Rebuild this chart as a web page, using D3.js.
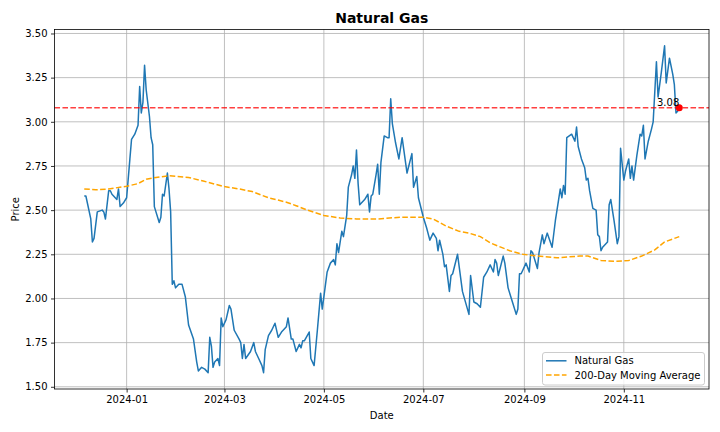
<!DOCTYPE html>
<html>
<head>
<meta charset="utf-8">
<script src="https://cdn.jsdelivr.net/npm/d3@7"></script>
<style>
  body { margin: 0; background: #fff; }
  svg { display: block; font-family: "DejaVu Sans", sans-serif; }
</style>
</head>
<body>
<div id="chart"></div>
<script>
// daily closes
const priceDates = [
  "2023-12-06","2023-12-07","2023-12-10","2023-12-11","2023-12-12","2023-12-14","2023-12-17","2023-12-18",
  "2023-12-19","2023-12-21","2023-12-22","2023-12-23","2023-12-26","2023-12-27","2023-12-28","2023-12-30",
  "2024-01-01","2024-01-03","2024-01-04","2024-01-06","2024-01-08","2024-01-09","2024-01-10","2024-01-11",
  "2024-01-12","2024-01-13","2024-01-15","2024-01-16","2024-01-17","2024-01-18","2024-01-21","2024-01-22",
  "2024-01-23","2024-01-24","2024-01-26","2024-01-27","2024-01-28","2024-01-29","2024-01-30","2024-01-31",
  "2024-02-02","2024-02-04","2024-02-06","2024-02-08","2024-02-11","2024-02-13","2024-02-14","2024-02-16",
  "2024-02-18","2024-02-20","2024-02-21","2024-02-22","2024-02-23","2024-02-24","2024-02-26","2024-02-27",
  "2024-02-28","2024-02-29","2024-03-02","2024-03-04","2024-03-05","2024-03-07","2024-03-10","2024-03-11",
  "2024-03-12","2024-03-13","2024-03-14","2024-03-17","2024-03-19","2024-03-20","2024-03-22","2024-03-24",
  "2024-03-25","2024-03-26","2024-03-28","2024-03-30","2024-04-01","2024-04-03","2024-04-05","2024-04-08",
  "2024-04-09","2024-04-11","2024-04-12","2024-04-14","2024-04-16","2024-04-17","2024-04-18","2024-04-19",
  "2024-04-22","2024-04-23","2024-04-25","2024-04-27","2024-04-29","2024-04-30","2024-05-03","2024-05-05",
  "2024-05-07","2024-05-08","2024-05-09","2024-05-10","2024-05-11","2024-05-12","2024-05-13","2024-05-15",
  "2024-05-16","2024-05-18","2024-05-19","2024-05-20","2024-05-21","2024-05-22","2024-05-23","2024-05-26",
  "2024-05-28","2024-05-29","2024-05-30","2024-05-31","2024-06-02","2024-06-03","2024-06-04","2024-06-05",
  "2024-06-07","2024-06-09","2024-06-10","2024-06-11","2024-06-12","2024-06-14","2024-06-16","2024-06-18",
  "2024-06-21","2024-06-24","2024-06-25","2024-06-27","2024-06-28","2024-07-01","2024-07-03","2024-07-05",
  "2024-07-07","2024-07-09","2024-07-10","2024-07-11","2024-07-13","2024-07-14","2024-07-15","2024-07-17",
  "2024-07-18","2024-07-19","2024-07-22","2024-07-25","2024-07-29","2024-07-30","2024-08-01","2024-08-03",
  "2024-08-05","2024-08-07","2024-08-09","2024-08-11","2024-08-13","2024-08-14","2024-08-15","2024-08-16",
  "2024-08-19","2024-08-20","2024-08-22","2024-08-24","2024-08-25","2024-08-27","2024-08-28","2024-08-29",
  "2024-08-30","2024-08-31","2024-09-02","2024-09-04","2024-09-05","2024-09-06","2024-09-09","2024-09-10",
  "2024-09-12","2024-09-13","2024-09-15","2024-09-18","2024-09-20","2024-09-22","2024-09-23","2024-09-24",
  "2024-09-25","2024-09-26","2024-09-27","2024-09-30","2024-10-02","2024-10-03","2024-10-04","2024-10-06",
  "2024-10-08","2024-10-09","2024-10-10","2024-10-11","2024-10-13","2024-10-15","2024-10-16","2024-10-17",
  "2024-10-18","2024-10-19","2024-10-21","2024-10-22","2024-10-23","2024-10-24","2024-10-26","2024-10-28",
  "2024-10-29","2024-10-30","2024-11-01","2024-11-02","2024-11-04","2024-11-05","2024-11-06","2024-11-07",
  "2024-11-09","2024-11-11","2024-11-12","2024-11-13","2024-11-14","2024-11-16","2024-11-18","2024-11-19",
  "2024-11-21","2024-11-22","2024-11-24","2024-11-26","2024-11-27","2024-11-29","2024-12-01","2024-12-02",
  "2024-12-03","2024-12-04","2024-12-05"
];
const priceValues = [
  2.58,2.58,2.45,2.32,2.34,2.49,2.50,2.49,
  2.45,2.61,2.61,2.59,2.56,2.62,2.52,2.54,
  2.57,2.79,2.90,2.93,2.98,3.20,3.05,3.11,
  3.32,3.18,3.03,2.91,2.87,2.52,2.43,2.46,
  2.59,2.58,2.71,2.62,2.49,2.08,2.10,2.06,
  2.08,2.08,2.01,1.85,1.77,1.64,1.59,1.61,
  1.60,1.58,1.78,1.73,1.61,1.64,1.66,1.62,
  1.89,1.84,1.88,1.96,1.94,1.82,1.77,1.75,
  1.66,1.74,1.66,1.70,1.75,1.70,1.66,1.62,
  1.58,1.71,1.79,1.82,1.86,1.78,1.81,1.84,
  1.89,1.77,1.77,1.70,1.74,1.72,1.76,1.76,
  1.81,1.66,1.62,1.82,2.03,1.94,2.15,2.20,
  2.22,2.19,2.31,2.26,2.32,2.38,2.35,2.47,
  2.63,2.70,2.75,2.68,2.84,2.65,2.53,2.56,
  2.59,2.49,2.58,2.59,2.70,2.76,2.59,2.77,
  2.92,2.91,2.91,3.13,2.99,2.88,2.79,2.91,
  2.71,2.82,2.63,2.69,2.57,2.46,2.40,2.33,
  2.37,2.34,2.27,2.33,2.25,2.18,2.19,2.04,
  2.13,2.14,2.25,2.04,1.91,2.13,1.98,1.97,
  1.95,2.12,2.15,2.19,2.15,2.22,2.20,2.13,
  2.24,2.20,2.06,2.00,1.97,1.91,1.94,2.14,
  2.14,2.16,2.20,2.15,2.27,2.26,2.17,2.26,
  2.36,2.31,2.37,2.29,2.44,2.56,2.62,2.57,
  2.64,2.59,2.91,2.93,2.89,2.97,2.86,2.79,
  2.74,2.67,2.68,2.61,2.51,2.50,2.36,2.35,
  2.27,2.29,2.31,2.32,2.53,2.56,2.44,2.31,
  2.35,2.85,2.67,2.72,2.79,2.68,2.75,2.67,
  2.81,2.93,2.92,2.98,2.79,2.89,2.96,3.00,
  3.34,3.14,3.28,3.43,3.22,3.36,3.27,3.21,
  3.05,3.06,3.08
];

// 200-day moving average, read at a coarser step
const maDates = [
  "2023-12-06","2023-12-13","2023-12-21","2024-01-01","2024-01-08","2024-01-13","2024-01-19","2024-01-27",
  "2024-02-08","2024-02-17","2024-02-29","2024-03-10","2024-03-18","2024-03-28","2024-04-08","2024-04-14",
  "2024-04-21","2024-05-01","2024-05-11","2024-05-21","2024-06-03","2024-06-17","2024-07-01","2024-07-07",
  "2024-07-15","2024-07-23","2024-07-29","2024-08-05","2024-08-11","2024-08-23","2024-08-31","2024-09-09",
  "2024-09-21","2024-10-05","2024-10-10","2024-10-18","2024-10-27","2024-11-04","2024-11-12","2024-11-20",
  "2024-11-26","2024-12-05"
];
const maValues = [
  2.62,2.615,2.62,2.635,2.65,2.675,2.685,2.695,
  2.685,2.665,2.635,2.62,2.605,2.57,2.545,2.525,
  2.50,2.47,2.455,2.45,2.45,2.46,2.46,2.45,
  2.41,2.38,2.37,2.35,2.315,2.27,2.25,2.24,
  2.23,2.24,2.24,2.215,2.21,2.215,2.24,2.275,
  2.32,2.35
];

const yTicks = [1.50, 1.75, 2.00, 2.25, 2.50, 2.75, 3.00, 3.25, 3.50];
const xTickDates = ["2024-01-01","2024-03-01","2024-05-01","2024-07-01","2024-09-01","2024-11-01"];

const W = 720, H = 432;
const margin = {top: 29.5, right: 11, bottom: 43, left: 54.5};
const iw = W - margin.left - margin.right;
const ih = H - margin.top - margin.bottom;

const parse = d3.utcParse("%Y-%m-%d");
const price = priceDates.map((d, i) => ({date: parse(d), value: priceValues[i]}));
const ma = maDates.map((d, i) => ({date: parse(d), value: maValues[i]}));

// matplotlib style 5% margins
const xExt = d3.extent(price, d => d.date);
const xPad = (xExt[1] - xExt[0]) * 0.05;
const x = d3.scaleUtc()
  .domain([new Date(+xExt[0] - xPad), new Date(+xExt[1] + xPad)])
  .range([0, iw]);

const yExt = d3.extent(price.concat(ma), d => d.value);
const yPad = (yExt[1] - yExt[0]) * 0.05;
const y = d3.scaleLinear()
  .domain([yExt[0] - yPad, yExt[1] + yPad])
  .range([ih, 0]);

const svg = d3.select("#chart").append("svg")
  .attr("width", W).attr("height", H);

svg.append("text")
  .attr("x", margin.left + iw / 2)
  .attr("y", 23)
  .attr("text-anchor", "middle")
  .attr("font-size", "14px")
  .attr("font-weight", "bold")
  .text("Natural Gas");

const g = svg.append("g").attr("transform", `translate(${margin.left},${margin.top})`);

// grid
g.append("g").selectAll("line").data(xTickDates.map(parse)).enter().append("line")
  .attr("x1", d => x(d)).attr("x2", d => x(d))
  .attr("y1", 0).attr("y2", ih)
  .attr("stroke", "#b0b0b0").attr("stroke-width", 0.8);
g.append("g").selectAll("line").data(yTicks).enter().append("line")
  .attr("x1", 0).attr("x2", iw)
  .attr("y1", d => y(d)).attr("y2", d => y(d))
  .attr("stroke", "#b0b0b0").attr("stroke-width", 0.8);

const line = d3.line().x(d => x(d.date)).y(d => y(d.value));

g.append("path")
  .datum(price)
  .attr("d", line)
  .attr("fill", "none")
  .attr("stroke", "#1f77b4")
  .attr("stroke-width", 1.5)
  .attr("stroke-linejoin", "round");

g.append("path")
  .datum(ma)
  .attr("d", line)
  .attr("fill", "none")
  .attr("stroke", "orange")
  .attr("stroke-width", 1.5)
  .attr("stroke-dasharray", "5.55,2.4");

const last = price[price.length - 1];

g.append("line")
  .attr("x1", 0).attr("x2", iw)
  .attr("y1", y(last.value)).attr("y2", y(last.value))
  .attr("stroke", "red")
  .attr("stroke-opacity", 0.75)
  .attr("stroke-width", 1.5)
  .attr("stroke-dasharray", "5.55,2.4");

g.append("circle")
  .attr("cx", x(last.date)).attr("cy", y(last.value))
  .attr("r", 3.5)
  .attr("fill", "red");

g.append("text")
  .attr("x", x(last.date))
  .attr("y", y(last.value) - 1.5)
  .attr("text-anchor", "end")
  .attr("font-size", "10px")
  .attr("fill", "#000")
  .text(last.value.toFixed(2));

// axes
const xAxis = g.append("g")
  .attr("transform", `translate(0,${ih})`)
  .call(d3.axisBottom(x).tickValues(xTickDates.map(parse))
    .tickFormat(d3.utcFormat("%Y-%m")).tickSize(3.5).tickPadding(3.5));
const yAxis = g.append("g")
  .call(d3.axisLeft(y).tickValues(yTicks).tickFormat(d3.format(".2f"))
    .tickSize(3.5).tickPadding(3.5));

[xAxis, yAxis].forEach(a => {
  a.select(".domain").remove();
  a.selectAll("line").attr("stroke", "#000").attr("stroke-width", 0.8);
  a.selectAll("text").attr("font-size", "10px").attr("fill", "#000")
    .attr("font-family", "DejaVu Sans");
});

g.append("rect")
  .attr("width", iw).attr("height", ih)
  .attr("fill", "none")
  .attr("stroke", "#000")
  .attr("stroke-width", 0.8);

svg.append("text")
  .attr("x", margin.left + iw / 2)
  .attr("y", 419)
  .attr("text-anchor", "middle")
  .attr("font-size", "10px")
  .text("Date");

svg.append("text")
  .attr("transform", `translate(19,${margin.top + ih / 2}) rotate(-90)`)
  .attr("text-anchor", "middle")
  .attr("font-size", "10px")
  .text("Price");

// legend
const lg = svg.append("g").attr("transform", "translate(542.5,352.5)");
lg.append("rect")
  .attr("width", 162).attr("height", 32.5)
  .attr("rx", 2.5)
  .attr("fill", "#fff").attr("fill-opacity", 0.8)
  .attr("stroke", "#cccccc").attr("stroke-width", 1);

const legendItems = [
  {label: "Natural Gas", color: "#1f77b4", dash: null},
  {label: "200-Day Moving Average", color: "orange", dash: "5.55,2.4"}
];
legendItems.forEach((it, i) => {
  const cy = 8.3 + i * 14.3;
  lg.append("line")
    .attr("x1", 3.5).attr("x2", 24)
    .attr("y1", cy).attr("y2", cy)
    .attr("stroke", it.color).attr("stroke-width", 1.5)
    .attr("stroke-dasharray", it.dash);
  lg.append("text")
    .attr("x", 32).attr("y", cy + 3.6)
    .attr("font-size", "10px")
    .text(it.label);
});
</script>
</body>
</html>
